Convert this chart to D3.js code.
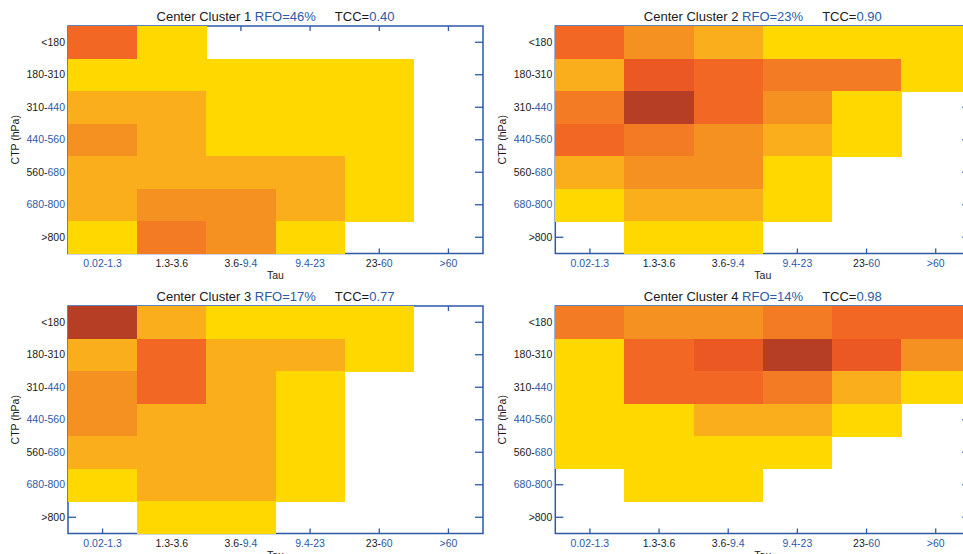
<!DOCTYPE html>
<html>
<head>
<meta charset="utf-8">
<script src="https://cdn.jsdelivr.net/npm/d3@7"></script>
<style>
  html, body { margin: 0; padding: 0; background: #fff; overflow: hidden; }
  svg { display: block; font-family: "Liberation Sans", Arial, Helvetica, sans-serif; }
</style>
</head>
<body>
<svg id="chart" width="963" height="554"></svg>
<script>
// ---- data ----
const tauLabels = ["0.02-1.3", "1.3-3.6", "3.6-9.4", "9.4-23", "23-60", ">60"];
const ctpLabels = ["<180", "180-310", "310-440", "440-560", "560-680", "680-800", ">800"];
const clusterIds = [1, 2, 3, 4];
const rfoValues = ["46%", "23%", "17%", "14%"];
const tccValues = ["0.40", "0.90", "0.77", "0.98"];
// frequency class per cell (0 = empty), rows = CTP bins (top to bottom), cols = Tau bins
const cluster1 = [
  [5, 1, 0, 0, 0, 0],
  [1, 1, 1, 1, 1, 0],
  [2, 2, 1, 1, 1, 0],
  [3, 2, 1, 1, 1, 0],
  [2, 2, 2, 2, 1, 0],
  [2, 3, 3, 2, 1, 0],
  [1, 4, 3, 1, 0, 0]
];
const cluster2 = [
  [5, 3, 2, 1, 1, 1],
  [2, 6, 5, 4, 4, 1],
  [4, 7, 5, 3, 1, 0],
  [5, 4, 3, 2, 1, 0],
  [2, 3, 3, 1, 0, 0],
  [1, 2, 2, 1, 0, 0],
  [0, 1, 1, 0, 0, 0]
];
const cluster3 = [
  [7, 2, 1, 1, 1, 0],
  [2, 5, 2, 2, 1, 0],
  [3, 5, 2, 1, 0, 0],
  [3, 2, 2, 1, 0, 0],
  [2, 2, 2, 1, 0, 0],
  [1, 2, 2, 1, 0, 0],
  [0, 1, 1, 0, 0, 0]
];
const cluster4 = [
  [4, 3, 3, 4, 5, 5],
  [1, 5, 6, 7, 6, 3],
  [1, 5, 5, 4, 2, 1],
  [1, 1, 2, 2, 1, 0],
  [1, 1, 1, 1, 0, 0],
  [0, 1, 1, 0, 0, 0],
  [0, 0, 0, 0, 0, 0]
];
const clusters = [cluster1, cluster2, cluster3, cluster4];

// ---- styles ----
const BLUE = "#2c5aa6";
const BLACK = "#1a1a1a";
const color = d3.scaleOrdinal()
  .domain([1, 2, 3, 4, 5, 6, 7])
  .range(["#ffd800", "#fbae1c", "#f59121", "#f37b23", "#f26724", "#ec5824", "#b63e24"]);

// label colouring (imitates the mixed black/blue text of the original)
const ctpSplit = { "<180": [["<180", BLACK]], "180-310": [["180-310", BLACK]],
  "310-440": [["310-", BLACK], ["440", BLUE]], "440-560": [["440-560", BLUE]],
  "560-680": [["560-", BLACK], ["680", BLUE]], "680-800": [["680-800", BLUE]], ">800": [[">800", BLACK]] };
const tauSplit = { "0.02-1.3": [["0.02-1.3", BLUE]], "1.3-3.6": [["1.3-3.6", BLACK]],
  "3.6-9.4": [["3.6-", BLACK], ["9.4", BLUE]], "9.4-23": [["9.4-23", BLUE]],
  "23-60": [["23-", BLACK], ["60", BLUE]], ">60": [[">60", BLUE]] };

const svg = d3.select("#chart");
const panelW = 415, panelH = 227.5;
const origins = [[68, 26], [555.3, 26], [68, 306], [555.3, 306]];

clusters.forEach((grid, k) => {
  const [ox, oy] = origins[k];
  const g = svg.append("g").attr("transform", `translate(${ox},${oy})`);
  const x = d3.scaleBand().domain(tauLabels).range([0, panelW]);
  const y = d3.scaleBand().domain(ctpLabels).range([0, panelH]);

  // frame + inward ticks
  g.append("rect").attr("x", 0).attr("y", 0).attr("width", panelW).attr("height", panelH)
    .attr("fill", "none").attr("stroke", BLUE).attr("stroke-width", 1.5);
  tauLabels.forEach(t => {
    const cx = x(t) + x.bandwidth() / 2;
    g.append("line").attr("x1", cx).attr("x2", cx).attr("y1", 0).attr("y2", 5)
      .attr("stroke", BLUE).attr("stroke-width", 1.3);
    g.append("line").attr("x1", cx).attr("x2", cx).attr("y1", panelH).attr("y2", panelH - 5)
      .attr("stroke", BLUE).attr("stroke-width", 1.3);
  });
  ctpLabels.forEach(c => {
    const cy = y(c) + y.bandwidth() / 2;
    g.append("line").attr("x1", 0).attr("x2", 8).attr("y1", cy).attr("y2", cy)
      .attr("stroke", BLUE).attr("stroke-width", 1.3);
    g.append("line").attr("x1", panelW).attr("x2", panelW - 8).attr("y1", cy).attr("y2", cy)
      .attr("stroke", BLUE).attr("stroke-width", 1.3);
  });

  // cells
  const cells = [];
  grid.forEach((row, r) => row.forEach((v, c) => { if (v > 0) cells.push({ r, c, v }); }));
  g.selectAll("rect.cell").data(cells).enter().append("rect")
    .attr("class", "cell")
    .attr("x", d => x(tauLabels[d.c]))
    .attr("y", d => y(ctpLabels[d.r]))
    .attr("width", x.bandwidth() + 0.5)
    .attr("height", y.bandwidth() + 0.5)
    .attr("fill", d => color(d.v))
    .attr("shape-rendering", "crispEdges");

  // y tick labels
  ctpLabels.forEach(c => {
    const t = g.append("text").attr("x", -3).attr("y", y(c) + y.bandwidth() / 2)
      .attr("dy", "0.35em").attr("text-anchor", "end").attr("font-size", 10.5);
    ctpSplit[c].forEach(([s, col]) => t.append("tspan").attr("fill", col).text(s));
  });
  // x tick labels
  tauLabels.forEach(tl => {
    const t = g.append("text").attr("x", x(tl) + x.bandwidth() / 2).attr("y", panelH + 13.5)
      .attr("text-anchor", "middle").attr("font-size", 10.5);
    tauSplit[tl].forEach(([s, col]) => t.append("tspan").attr("fill", col).text(s));
  });
  // axis titles
  g.append("text").attr("x", panelW / 2).attr("y", panelH + 25.5).attr("text-anchor", "middle")
    .attr("font-size", 10.5).attr("fill", BLACK).text("Tau");
  g.append("text").attr("transform", `translate(-53,${panelH / 2}) rotate(-90)`)
    .attr("dy", "0.35em").attr("text-anchor", "middle").attr("font-size", 10.5)
    .attr("fill", BLACK).text("CTP (hPa)");

  // title
  const title = g.append("text").attr("x", panelW / 2).attr("y", -5.5)
    .attr("text-anchor", "middle").attr("font-size", 13);
  title.append("tspan").attr("fill", BLACK).text(`Center Cluster ${clusterIds[k]} `);
  title.append("tspan").attr("fill", BLUE).text(`RFO=${rfoValues[k]}`);
  title.append("tspan").attr("fill", BLACK).attr("dx", 19).text("TCC=");
  title.append("tspan").attr("fill", BLUE).text(tccValues[k]);
});
</script>
</body>
</html>
